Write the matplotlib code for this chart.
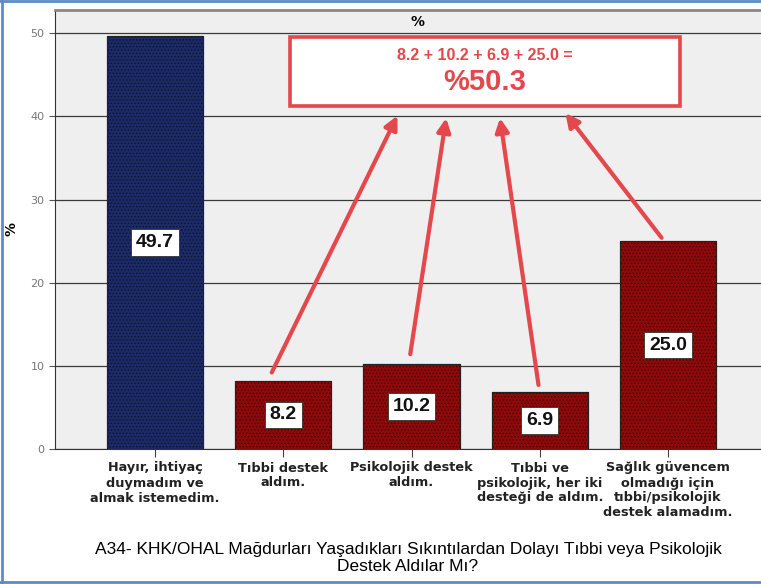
import matplotlib.pyplot as plt
from matplotlib.lines import Line2D
from matplotlib.patches import Rectangle
import numpy as np

# data
categories = ['Hayır, ihtiyaç\nduymadım ve\nalmak istemedim.',
              'Tıbbi destek\naldım.',
              'Psikolojik destek\naldım.',
              'Tıbbi ve\npsikolojik, her iki\ndesteği de aldım.',
              'Sağlık güvencem\nolmadığı için\ntıbbi/psikolojik\ndestek alamadım.']
values = [49.7, 8.2, 10.2, 6.9, 25.0]
bar_colors = ['#1c2a66', '#8e0a0a', '#8e0a0a', '#8e0a0a', '#8e0a0a']
hatch_colors = ['#0b1233', '#4a0000', '#4a0000', '#4a0000', '#4a0000']
summed = values[1:]
xlabel = ('A34- KHK/OHAL Mağdurları Yaşadıkları Sıkıntılardan Dolayı Tıbbi veya Psikolojik\n'
          'Destek Aldılar Mı?')

RED = '#e4474c'

plt.rcParams['hatch.linewidth'] = 0.6

fig = plt.figure(figsize=(7.61, 5.84), dpi=100)
ax = fig.add_axes([55 / 761, 135 / 584, 706 / 761, 439 / 584])
ax.set_facecolor('#efefef')

x = np.arange(len(values))
for i in x:
    ax.bar(i, values[i], width=0.75, color=bar_colors[i], edgecolor=hatch_colors[i],
           hatch='.....', linewidth=0.8, zorder=3)
    ax.bar(i, values[i], width=0.75, fill=False, edgecolor='#222222', linewidth=0.8, zorder=3)
    ax.text(i, values[i] / 2, f'{values[i]:.1f}', ha='center', va='center',
            fontsize=14, fontweight='bold', family='Liberation Sans', color='#111111', zorder=5,
            bbox=dict(boxstyle='square,pad=0.25', facecolor='white', edgecolor='#333333', linewidth=0.6))

ax.set_xlim(-0.78, 4.725)
ax.set_ylim(0, 52.8)
ax.set_yticks([0, 10, 20, 30, 40, 50])
ax.yaxis.grid(True, color='#3a3a3a', linewidth=0.9, zorder=1)
ax.set_axisbelow(True)
ax.tick_params(axis='y', labelsize=8, labelcolor='#777777', length=4, color='#555555')
ax.set_xticks(x)
ax.set_xticklabels(categories, fontsize=9.3, fontweight='bold', family='DejaVu Sans',
                   color='#222222', linespacing=1.2)
ax.tick_params(axis='x', length=6, color='#444444', pad=3)

ax.spines['right'].set_visible(False)
ax.spines['top'].set_color('#888888')
ax.spines['top'].set_linewidth(2)
ax.spines['left'].set_color('#333333')
ax.spines['bottom'].set_color('#333333')

ax.set_ylabel('%', fontsize=10, fontweight='bold')
ax.yaxis.set_label_coords(-37 / 706, 0.5)
ax.set_xlabel(xlabel, fontsize=12.5, family='Liberation Sans', labelpad=16, linespacing=1.2)
ax.text(0.513, 0.972, '%', transform=ax.transAxes, ha='center', va='center',
        fontsize=10, fontweight='bold')

# sum annotation box
ax.add_patch(Rectangle((1.053, 41.2), 3.04, 8.3, facecolor='white', edgecolor=RED,
                       linewidth=2.6, zorder=6))
ax.text(2.57, 47.3, ' + '.join(f'{v:.1f}' for v in summed) + ' =', ha='center', va='center',
        fontsize=11.5, fontweight='bold', family='Liberation Sans', color=RED, zorder=7)
ax.text(2.57, 44.1, f'%{sum(summed):.1f}', ha='center', va='center',
        fontsize=21, fontweight='bold', family='Liberation Sans', color=RED, zorder=7)

# arrows from bars to the box
tips = [(1.89, 40.1), (2.27, 39.8), (2.69, 39.8), (3.20, 40.4)]
offsets = [(-0.09, 1.0), (-0.01, 1.2), (-0.01, 0.8), (-0.05, 0.4)]
for k, v in enumerate(summed):
    i = k + 1
    start = (i + offsets[k][0], v + offsets[k][1])
    ax.annotate('', xy=tips[k], xytext=start, zorder=8,
                arrowprops=dict(arrowstyle='-|>,head_length=0.8,head_width=0.4',
                                color=RED, linewidth=3.0, shrinkA=0, shrinkB=0))

# outer blue border
for xs, ys in [([0.002, 0.002], [0, 1]), ([0, 1], [0.998, 0.998]), ([0, 1], [0.003, 0.003])]:
    fig.add_artist(Line2D(xs, ys, color='#5a8ccc', linewidth=2, transform=fig.transFigure))

fig.savefig('out.png', dpi=100)
